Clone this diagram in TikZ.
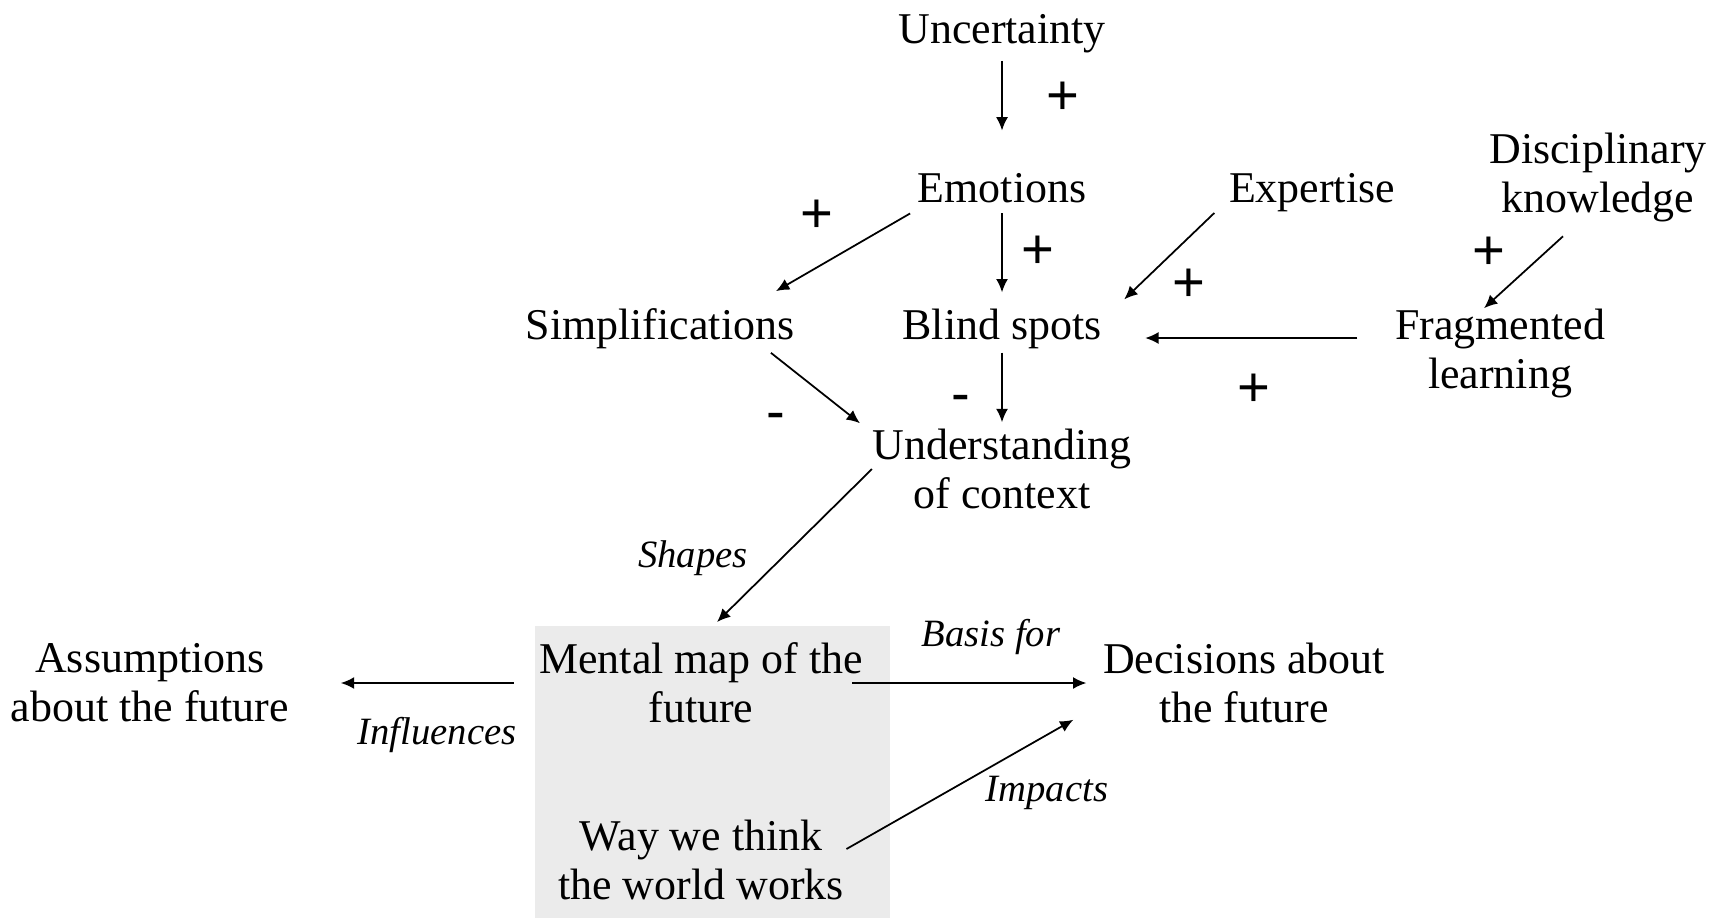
\documentclass[tikz,border=0pt]{standalone}
\usepackage{fontspec}
\setmainfont{Liberation Serif}
\newfontfamily\signfont{Liberation Sans}
\usetikzlibrary{arrows.meta, positioning}
\definecolor{boxgray}{RGB}{235,235,235}
\tikzset{on grid,
         >= {Latex[length = 3.8pt, width = 3.4pt]},
         concept/.style = {align = center, inner sep = 0pt,
                           font = \fontsize{12.5}{14}\selectfont},
         sign/.style = {inner sep = 0pt,
                        font = \signfont\fontsize{16}{16}\selectfont},
         relation/.style = {inner sep = 0pt,
                            font = \fontsize{11}{13}\selectfont\itshape},
         every edge/.style = {draw, line width = 0.5pt}}

\begin{document}
\begin{tikzpicture}
        \useasboundingbox (0,0) rectangle (17.13,-9.18);
        \fill[boxgray] (5.35,-6.26) rectangle (8.90,-9.18);

        \node[concept] (unc)   at (10.02,-0.34)                     {Uncertainty};
        \node[concept] (emo)   [below = 1.54cm of unc]              {Emotions};
        \node[concept] (blind) [below = 1.405cm of emo]             {Blind spots};
        \node[concept] (und)   [below = 1.405cm of blind]           {Understanding\\of context};
        \node[concept] (simp)  [left = 3.42cm of blind]             {Simplifications};
        \node[concept] (exp)   [below right = 0.045cm and 3.10cm of emo] {Expertise};
        \node[concept] (disc)  [above right = 0.15cm and 2.86cm of exp] {Disciplinary\\knowledge};
        \node[concept] (frag)  [below right = 0.25cm and 4.98cm of blind] {Fragmented\\learning};
        \node[concept] (mmap)  [below left = 2.14cm and 3.01cm of und] {Mental map of the\\future};
        \node[concept] (assm)  [left = 5.51cm of mmap]              {Assumptions\\about the future};
        \node[concept] (dec)   [right = 5.43cm of mmap]             {Decisions about\\the future};
        \node[concept] (way)   [below = 1.77cm of mmap]             {Way we think\\the world works};

        \node[sign] (s1) [below right = 0.64cm and 0.61cm of unc]   {+};
        \node[sign] (s2) [below left = 0.28cm and 1.85cm of emo]    {+};
        \node[sign] (s3) [below right = 0.64cm and 0.36cm of emo]   {+};
        \node[sign] (s4) [above right = 0.43cm and 1.87cm of blind] {+};
        \node[sign] (s5) [above left = 1.00cm and 0.11cm of frag]   {+};
        \node[sign] (s6) [below right = 0.62cm and 2.52cm of blind] {+};
        \node[sign] (s7) [below right = 0.935cm and 1.16cm of simp] {-};
        \node[sign] (s8) [below left = 0.755cm and 0.41cm of blind] {-};

        \node[relation] (shapes)  [above left = 1.25cm and 0.08cm of mmap]  {Shapes};
        \node[relation] (basis)   [above right = 0.46cm and 2.90cm of mmap] {Basis for};
        \node[relation] (infl)    [below left = 0.52cm and 2.64cm of mmap]  {Influences};
        \node[relation] (impacts) [below left = 1.10cm and 1.97cm of dec]   {Impacts};

        \path[->] (unc) edge[shorten <= 0.7mm, shorten >= 4.2mm] (emo);
        \path[->] ([shift={(-0.7mm,-1mm)}]emo.south west)
                  edge ([shift={(-1.9mm,1.65mm)}]simp.north east);
        \path[->] (emo) edge[shorten <= 1mm, shorten >= 1.55mm] (blind);
        \path[->] ([shift={(-1.4mm,-0.05mm)}]exp.south west)
                  edge ([shift={(2.2mm,0.85mm)}]blind.north east);
        \path[->] ([shift={(-3.5mm,-1.35mm)}]disc.south) edge ([xshift=-1.6mm]frag.north);
        \path[->] ([shift={(-3.7mm,1.55mm)}]frag.west)
                  edge ([shift={(4.3mm,-0.95mm)}]blind.east);
        \path[->] ([shift={(-2.4mm,-0.35mm)}]simp.south east)
                  edge ([shift={(-1.2mm,0.5mm)}]und.north west);
        \path[->] (blind) edge[shorten <= 0.35mm, shorten >= 0.6mm] (und);
        \path[->] (und.west) edge ([shift={(1.6mm,2mm)}]mmap.north);
        \path[->] (mmap) edge[shorten <= 2.5mm, shorten >= 5.1mm] (assm);
        \path[->] (mmap) edge[shorten <= -1.1mm, shorten >= 1.6mm] (dec);
        \path[->] ([shift={(0.2mm,1.1mm)}]way.east)
                  edge ([shift={(-2.9mm,0.4mm)}]dec.south west);
    \end{tikzpicture}
\end{document}
